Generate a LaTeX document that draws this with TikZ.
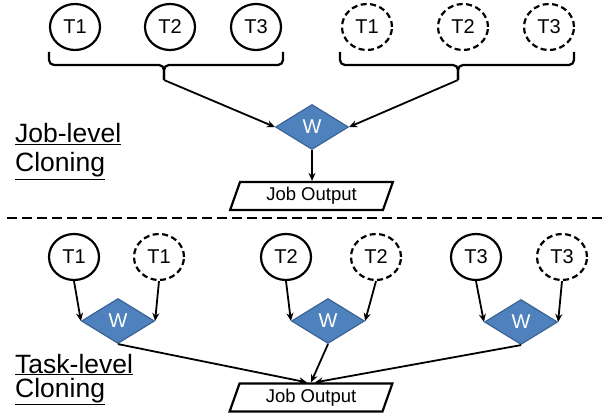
\documentclass[tikz,border=0pt]{standalone}
\usepackage{fontspec}
\setmainfont{Liberation Sans}
\usetikzlibrary{shapes.geometric,arrows.meta}
\definecolor{wfill}{HTML}{4F81BD}
\definecolor{wdraw}{HTML}{3B6496}
\begin{document}
\begin{tikzpicture}[x=1pt,y=-1pt,
 task/.style={ellipse,draw,line width=2.2pt,minimum width=50pt,minimum height=46pt,inner sep=0pt,font=\fontsize{20}{22}\selectfont},
 clone/.style={task,dash pattern=on 6pt off 3.5pt},
 wnode/.style={diamond,fill=wfill,draw=wdraw,line width=1.2pt,minimum width=73pt,minimum height=45pt,inner sep=0pt,text=white,font=\fontsize{20}{22}\selectfont},
 outbox/.style={trapezium,trapezium left angle=70,trapezium right angle=110,trapezium stretches=true,draw,line width=2.2pt,minimum width=163pt,minimum height=28pt,inner sep=0pt,font=\fontsize{18.5}{20}\selectfont},
 arr/.style={-{Stealth[length=8pt,width=7pt]},line width=1.8pt},
 brace/.style={line width=2.2pt,rounded corners=5pt},
 lbl/.style={anchor=base west,inner sep=0pt,font=\fontsize{26.5}{30}\selectfont}]
\useasboundingbox (0,0) rectangle (605,414);

% ---------- Job-level cloning ----------
\node[task]  (a1) at (75,27)  {T1};
\node[task]  (a2) at (170,27) {T2};
\node[task]  (a3) at (256,27) {T3};
\node[clone] (b1) at (367,27) {T1};
\node[clone] (b2) at (463,27) {T2};
\node[clone] (b3) at (549,27) {T3};

\coordinate (bl) at (164,80);
\coordinate (br) at (458,80);
\draw[brace] (49,52) -- (49,65) -- (164,65) -- (bl);
\draw[brace] (283,52) -- (283,65) -- (164,65) -- (bl);
\draw[brace] (340,52) -- (340,65) -- (458,65) -- (br);
\draw[brace] (574,52) -- (574,65) -- (458,65) -- (br);

\node[wnode] (w) at (312,127) {W};
\node[outbox] (out1) at (311.5,196) {Job Output};

\draw[arr] (bl) -- (w.west);
\draw[arr] (br) -- (w.east);
\draw[arr] (w.south) -- (w.south |- out1.north);

\node[lbl] (jl1) at (15,143) {\underline{Job-level}};
\node[lbl] (jl2) at (15,172) {\underline{Cloning}};

% ---------- separator ----------
\coordinate (sepL) at (7,218);
\coordinate (sepR) at (605,218);
\draw[line width=2.2pt,dash pattern=on 10pt off 5pt] (sepL) -- (sepR);

% ---------- Task-level cloning ----------
\node[task]  (c1) at (74,257)  {T1};
\node[clone] (d1) at (159,257) {T1};
\node[task]  (c2) at (286,257) {T2};
\node[clone] (d2) at (376,257) {T2};
\node[task]  (c3) at (476,257) {T3};
\node[clone] (d3) at (562,257) {T3};

\node[wnode] (w1) at (118,321) {W};
\node[wnode] (w2) at (328,321) {W};
\node[wnode] (w3) at (521,322) {W};

\node[outbox] (out2) at (311,397.5) {Job Output};

\draw[arr] (c1.south) -- (w1.west);
\draw[arr] (d1.south) -- (w1.east);
\draw[arr] (c2.south) -- (w2.west);
\draw[arr] (d2.south) -- (w2.east);
\draw[arr] (c3.south) -- (w3.west);
\draw[arr] (d3.south) -- (w3.east);

\coordinate (o1) at ([xshift=-4pt]out2.north);
\coordinate (o2) at (out2.north);
\coordinate (o3) at ([xshift=4pt]out2.north);
\draw[arr] (w1.south) -- (o1);
\draw[arr] (w2.south) -- (o2);
\draw[arr] (w3.south) -- (o3);

\node[lbl] (tl1) at (15,373) {\underline{Task-level}};
\node[lbl] (tl2) at (15,397) {\underline{Cloning}};
\end{tikzpicture}
\end{document}
